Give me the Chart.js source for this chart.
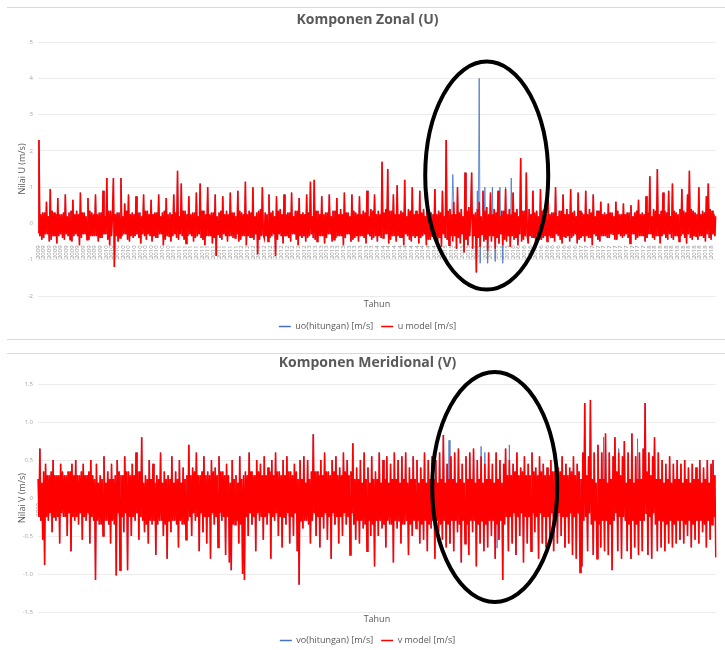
<!DOCTYPE html>
<html>
<head>
<meta charset="utf-8">
<script src="https://cdn.jsdelivr.net/npm/chart.js@4"></script>
<style>
  body { margin: 0; background: #fff; width: 725px; height: 650px; overflow: hidden; position: relative; }
  .sep { position: absolute; left: 7px; width: 718px; height: 1px; background: #d9d9d9; }
  canvas { position: absolute; left: 7px; }
</style>
</head>
<body>
<div class="sep" style="top:7px"></div>
<div class="sep" style="top:339px"></div>
<div class="sep" style="top:353px"></div>
<canvas id="chartU" width="718" height="333" style="top:8px"></canvas>
<canvas id="chartV" width="718" height="301" style="top:354px"></canvas>
<script>
// tahun pada sumbu X (72 sampel per tahun)
const years = ["2009", "2010", "2011", "2012", "2013", "2014", "2015", "2016", "2017", "2018"];

// Komponen Zonal (U), satu baris = 20 sampel
const uModel = [
  -.25,2.3,-.35,.25, -.45,.3,-.4,.3, -.3,.6,-.3,.2, -.5,.95,-.45,.35, -.35,.3,-.35,.25,
  -.55,.7,-.35,.25, -.3,.25,-.4,.3, -.45,.8,-.3,.2, -.35,.3,-.45,.35, -.5,.65,-.35,.25,
  -.3,.35,-.35,.25, -.6,.85,-.4,.3, -.3,.3,-.3,.2, -.45,.7,-.45,.35, -.35,.3,-.35,.25,
  -.35,.8,-.35,.25, -.5,.3,-.4,.3, -.4,.9,-.3,.2, -.3,1.25,-.45,.35, -.6,.35,-.35,.25,
  1.25,-1.2,.25,-.35, .3,-.5,.3,-.4, 1.25,-.35,.2,-.3, .55,-.3,.35,-.45, .8,-.5,.25,-.35,
  .3,-.4,.25,-.35, .75,-.3,.3,-.4, .3,-.55,.2,-.3, .8,-.35,.35,-.45, .35,-.3,.25,-.35,
  .65,-.5,.25,-.35, .3,-.4,.3,-.4, .8,-.3,.2,-.3, .3,-.6,.35,-.45, .7,-.35,.25,-.35,
  .3,-.5,.25,-.35, .8,-.3,.3,-.4, 1.45,-.45,.2,-.3, 1.1,-.35,.35,-.45, .35,-.55,.25,-.35,
  .75,-.3,.25,-.35, .3,-.5,.3,-.4, .85,-.35,.2,-.3, 1.1,-.4,.35,-.45, .35,-.6,.25,-.35,
  1.0,-.35,.25,-.35, .3,-.55,.3,-.4, .8,-.9,.2,-.3, .3,-.4,.35,-.45, .75,-.3,.25,-.35,
  .35,-.5,.25,-.35, .85,-.35,.3,-.4, .3,-.4,.2,-.3, .9,-.5,.35,-.45, .3,-.35,.25,-.35,
  1.15,-.6,.25,-.35, .35,-.4,.3,-.4, 1.0,-.45,.2,-.3, .3,-.85,.35,-.45, .4,-.35,1.0,-.3,
  -.4,.3,-.35,.25, -.5,.8,-.4,.3, -.35,.35,-.3,.2, -.9,.75,-.45,.35, -.3,.4,-.35,.25,
  -.55,.8,-.35,.25, -.35,.3,-.4,.3, -.5,.85,-.3,.2, -.3,.35,-.45,.35, -.6,.7,-.35,.25,
  -.4,.3,-.35,.25, -.5,.8,-.4,.3, -.35,1.15,-.3,.2, -.4,1.2,-.45,.35, -.5,.35,-.35,.25,
  -.35,.75,-.35,.25, -.55,.3,-.4,.3, -.3,.8,-.3,.2, -.5,.35,-.45,.35, -.4,.7,-.35,.25,
  -.35,.4,-.35,.25, -.6,.85,-.4,.3, -.3,.3,-.3,.2, -.5,.8,-.45,.35, -.4,.3,-.35,.25,
  -.5,.75,-.35,.25, -.35,.35,-.4,.3, -.55,.9,-.3,.2, -.35,.4,-.45,.35, -.4,.8,-.35,.25,
  -.5,.35,-.35,.25, -.4,1.7,-.4,.3, -.3,.4,-.3,1.5, -.55,.35,-.45,.35, -.35,.8,-.35,.25,
  -.5,1.05,-.35,.25, -.4,.35,-.4,.3, -.6,1.2,-.3,.2, -.35,.4,-.45,.35, -.5,1.0,-.35,.25,
  -.4,.35,-.35,.25, -.55,.9,-.4,.3, -.35,.4,-.3,.2, -.6,.85,-.45,.35, -.45,.3,-.35,.25,
  -.4,.95,-.35,.25, -.5,.35,-.4,.3, -.65,.9,-.3,.2, -.4,2.3,-.45,.35, -.6,.4,-.35,.25,
  -.5,.6,-.35,.25, -.7,1.0,-.4,.3, -.55,.4,-.3,.2, -.8,1.4,-.45,.35, -.6,.45,-.35,.25,
  1.4,-.7,.25,-.35, .3,-1.35,.4,-.4, .6,-.65,.2,-.3, .9,-.5,.35,-.45, .45,-.75,.25,-.35,
  .85,-.5,.25,-.35, .4,-.7,.3,-.4, .9,-.55,.2,-.3, .35,-.6,.35,-.45, .95,-.5,.25,-.35,
  .4,-.65,.25,-.35, .85,-.45,.3,-.4, .4,-.6,.2,-.3, 1.8,-.5,.35,-.45, .35,-.35,1.4,-.35,
  -.55,.4,-.35,.25, -.4,.9,-.4,.3, -.6,.35,-.3,.2, -.45,.95,-.45,.35, -.4,.4,-.35,.25,
  -.5,.85,-.35,.25, -.4,.3,-.4,.3, -.5,1.0,-.3,.2, -.35,.35,-.45,.35, -.55,.8,-.35,.25,
  -.4,.4,-.35,.25, -.5,.95,-.4,.3, -.35,.35,-.3,.2, -.55,.85,-.45,.35, -.4,.3,-.35,.25,
  -.5,.9,-.35,.25, -.4,.4,-.4,.3, -.6,.8,-.3,.2, -.35,.35,-.45,.35, -.5,.6,-.35,.25,
  -.35,.3,-.35,.25, -.4,.55,-.4,.3, -.3,.3,-.3,.2, -.45,.6,-.45,.35, -.3,.25,-.35,.25,
  -.4,.55,-.35,.25, -.3,.3,-.4,.3, -.55,.5,-.3,.2, -.3,.3,-.45,.35, -.4,.65,-.35,.25,
  -.35,.3,-.35,.25, -.5,.75,-.4,.3, -.3,1.3,-.3,.2, -.4,.4,-.45,.35, -.35,1.5,-.35,.25,
  -.55,.35,-.35,.85, -.3,.35,-.4,.3, -.45,.9,-.3,.2, -.4,1.1,-.45,.35, -.35,.3,-.35,.25,
  -.5,.4,-.35,.95, -.3,.35,-.4,.3, -.55,.8,-.3,1.45, -.4,.4,-.45,.35, -.35,.3,-.35,.25,
  -.45,1.0,-.35,.25, -.35,.35,-.4,.3, -.5,.75,-.3,1.1, -.4,.4,-.45,.35, -.3,.25,-.35,.2
];

const uObserved = [
  -.25,2.3,-.35,.25, -.45,.3,-.4,.3, -.3,.6,-.3,.2, -.5,.95,-.45,.35, -.35,.3,-.35,.25,
  -.55,.7,-.35,.25, -.3,.25,-.4,.3, -.45,.8,-.3,.2, -.35,.3,-.45,.35, -.5,.65,-.35,.25,
  -.3,.35,-.35,.25, -.6,.85,-.4,.3, -.3,.3,-.3,.2, -.45,.7,-.45,.35, -.35,.3,-.35,.25,
  -.35,.8,-.35,.25, -.5,.3,-.4,.3, -.4,.9,-.3,.2, -.3,1.25,-.45,.35, -.6,.35,-.35,.25,
  1.25,-1.2,.25,-.35, .3,-.5,.3,-.4, 1.25,-.35,.2,-.3, .55,-.3,.35,-.45, .8,-.5,.25,-.35,
  .3,-.4,.25,-.35, .75,-.3,.3,-.4, .3,-.55,.2,-.3, .8,-.35,.35,-.45, .35,-.3,.25,-.35,
  .65,-.5,.25,-.35, .3,-.4,.3,-.4, .8,-.3,.2,-.3, .3,-.6,.35,-.45, .7,-.35,.25,-.35,
  .3,-.5,.25,-.35, .8,-.3,.3,-.4, 1.45,-.45,.2,-.3, 1.1,-.35,.35,-.45, .35,-.55,.25,-.35,
  .75,-.3,.25,-.35, .3,-.5,.3,-.4, .85,-.35,.2,-.3, 1.1,-.4,.35,-.45, .35,-.6,.25,-.35,
  1.0,-.35,.25,-.35, .3,-.55,.3,-.4, .8,-.9,.2,-.3, .3,-.4,.35,-.45, .75,-.3,.25,-.35,
  .35,-.5,.25,-.35, .85,-.35,.3,-.4, .3,-.4,.2,-.3, .9,-.5,.35,-.45, .3,-.35,.25,-.35,
  1.15,-.6,.25,-.35, .35,-.4,.3,-.4, 1.0,-.45,.2,-.3, .3,-.85,.35,-.45, .4,-.35,1.0,-.3,
  -.4,.3,-.35,.25, -.5,.8,-.4,.3, -.35,.35,-.3,.2, -.9,.75,-.45,.35, -.3,.4,-.35,.25,
  -.55,.8,-.35,.25, -.35,.3,-.4,.3, -.5,.85,-.3,.2, -.3,.35,-.45,.35, -.6,.7,-.35,.25,
  -.4,.3,-.35,.25, -.5,.8,-.4,.3, -.35,1.15,-.3,.2, -.4,1.2,-.45,.35, -.5,.35,-.35,.25,
  -.35,.75,-.35,.25, -.55,.3,-.4,.3, -.3,.8,-.3,.2, -.5,.35,-.45,.35, -.4,.7,-.35,.25,
  -.35,.4,-.35,.25, -.6,.85,-.4,.3, -.3,.3,-.3,.2, -.5,.8,-.45,.35, -.4,.3,-.35,.25,
  -.5,.75,-.35,.25, -.35,.35,-.4,.3, -.55,.9,-.3,.2, -.35,.4,-.45,.35, -.4,.8,-.35,.25,
  -.5,.35,-.35,.25, -.4,1.7,-.4,.3, -.3,.4,-.3,1.5, -.55,.35,-.45,.35, -.35,.8,-.35,.25,
  -.5,1.05,-.35,.25, -.4,.35,-.4,.3, -.6,1.2,-.3,.2, -.35,.4,-.45,.35, -.5,1.0,-.35,.25,
  -.4,.35,-.35,.25, -.55,.9,-.4,.3, -.35,.4,-.3,.2, -.6,.85,-.45,.35, -.45,.3,-.35,.25,
  -.4,.95,-.35,.25, -.5,.35,-.4,.3, -.65,.9,-.3,.2, -.4,2.3,-.45,.35, -.6,.4,-.35,.25,
  1.35,.6,-.35,.25, -.7,1.0,-.4,.3, -.55,.4,-.3,.2, -.8,1.4,-.45,.35, -.6,.45,-.35,.25,
  1.4,-.7,.25,-.35, .3,-1.35,.9,-.4, 4.0,-1.1,.2,-.3, .9,-.5,1.0,-.45, .45,-1.1,.25,-.35,
  .85,-.5,1.0,-.35, .4,-1.05,.3,-.4, .9,-.55,1.0,-.3, .35,-1.1,.35,-.45, 1.0,-.5,.25,-.35,
  .4,-.65,1.25,-.35, .85,-.45,.3,-.4, .4,-.6,.2,-.3, 1.8,-.5,.35,-.45, .35,-.35,1.4,-.35,
  -.55,.4,-.35,.25, -.4,.9,-.4,.3, -.6,.35,-.3,.2, -.45,.95,-.45,.35, -.4,.4,-.35,.25,
  -.5,.85,-.35,.25, -.4,.3,-.4,.3, -.5,1.0,-.3,.2, -.35,.35,-.45,.35, -.55,.8,-.35,.25,
  -.4,.4,-.35,.25, -.5,.95,-.4,.3, -.35,.35,-.3,.2, -.55,.85,-.45,.35, -.4,.3,-.35,.25,
  -.5,.9,-.35,.25, -.4,.4,-.4,.3, -.6,.8,-.3,.2, -.35,.35,-.45,.35, -.5,.6,-.35,.25,
  -.35,.3,-.35,.25, -.4,.55,-.4,.3, -.3,.3,-.3,.2, -.45,.6,-.45,.35, -.3,.25,-.35,.25,
  -.4,.55,-.35,.25, -.3,.3,-.4,.3, -.55,.5,-.3,.2, -.3,.3,-.45,.35, -.4,.65,-.35,.25,
  -.35,.3,-.35,.25, -.5,.75,-.4,.3, -.3,1.3,-.3,.2, -.4,.4,-.45,.35, -.35,1.5,-.35,.25,
  -.55,.35,-.35,.85, -.3,.35,-.4,.3, -.45,.9,-.3,.2, -.4,1.1,-.45,.35, -.35,.3,-.35,.25,
  -.5,.4,-.35,.95, -.3,.35,-.4,.3, -.55,.8,-.3,1.45, -.4,.4,-.45,.35, -.35,.3,-.35,.25,
  -.45,1.0,-.35,.25, -.35,.35,-.4,.3, -.5,.75,-.3,1.1, -.4,.4,-.45,.35, -.3,.25,-.35,.2
];

// Komponen Meridional (V), satu baris = 20 sampel
const vModel = [
  .25,-.25, .65,-.3, .2,-.55, .35,-.88, .45,-.25, .3,-.3, .3,-.2, .35,-.45, .5,-.25, .3,-.3,
  .3,-.25, .3,-.6, .45,-.2, .35,-.25, .3,-.25, .3,-.5, .35,-.2, .35,-.7, .45,-.25, .3,-.3,
  .5,-.25, .3,-.35, .3,-.2, .35,-.55, .45,-.25, .3,-.3, .3,-.2, .35,-.6, .5,-.25, .3,-.3,
  .25,-1.08, .45,-.3, .2,-.35, .3,-.35, .25,-.5, .55,-.3, .2,-.3, .35,-.35, .25,-.6, .45,-.3,
  .25,-.35, .3,-1.02, .5,-.2, .35,-.95, .3,-.25, .3,-.45, .55,-.2, .35,-.95, .35,-.25, .3,-.5,
  .45,-.25, .3,-.3, .6,-.2, .35,-.55, .35,-.25, .8,-.3, .2,-.45, .3,-.35, .25,-.6, .5,-.3,
  .25,-.35, .45,-.3, .2,-.75, .3,-.35, .25,-.3, .6,-.3, .2,-.5, .35,-.35, .25,-.8, .3,-.3,
  .25,-.45, .55,-.3, .2,-.3, .35,-.35, .25,-.65, .5,-.3, .2,-.35, .4,-.35, .25,-.55, .3,-.3,
  .7,-.25, .3,-.5, .4,-.2, .35,-.3, .6,-.25, .3,-.7, .3,-.2, .35,-.45, .55,-.25, .3,-.6,
  .35,-.25, .3,-.8, .5,-.2, .35,-.35, .4,-.25, .3,-.65, .55,-.2, .35,-.3, .35,-.25, .3,-.75,
  .45,-.25, .3,-.85, .2,-.95, .5,-.35, .25,-.35, .3,-.3, .2,-.6, .55,-.35, .25,-1.0, .3,-1.08,
  .35,-.25, .3,-.5, .6,-.2, .35,-.35, .3,-.25, .3,-.7, .5,-.2, .35,-.3, .45,-.25, .3,-.55,
  .55,-.25, .3,-.35, .4,-.2, .35,-.8, .5,-.25, .3,-.3, .6,-.2, .35,-.5, .35,-.25, .3,-.65,
  .5,-.25, .3,-.35, .55,-.2, .35,-.6, .35,-.25, .3,-.5, .45,-.2, .35,-.7, .25,-1.14, .5,-.3,
  .25,-.4, .55,-.3, .2,-.3, .5,-.35, .25,-.6, .35,-.3, .84,-.2, .35,-.5, .35,-.25, .3,-.65,
  .5,-.25, .3,-.4, .6,-.2, .35,-.55, .35,-.25, .3,-.8, .5,-.2, .35,-.35, .55,-.25, .3,-.6,
  .4,-.25, .3,-.5, .6,-.2, .35,-.35, .5,-.25, .3,-.75, .35,-.2, .72,-.35, .25,-.55, .4,-.3,
  .25,-.6, .5,-.3, .2,-.4, .6,-.35, .25,-.7, .4,-.3, .2,-.5, .55,-.35, .25,-.9, .35,-.3,
  .25,-.5, .6,-.3, .2,-.4, .5,-.35, .25,-.65, .55,-.3, .2,-.35, .45,-.35, .25,-.85, .6,-.3,
  .25,-.4, .5,-.3, .2,-.6, .55,-.35, .25,-.35, .6,-.3, .2,-.75, .4,-.35, .25,-.5, .55,-.3,
  .25,-.4, .5,-.3, .2,-.6, .4,-.35, .25,-.55, .6,-.3, .2,-.7, .5,-.35, .25,-.4, .55,-.3,
  .25,-.8, .5,-.3, .2,-.45, .6,-.35, .25,-.55, .83,-.3, .2,-.65, .45,-.35, .25,-.6, .55,-.3,
  .25,-.7, .6,-.3, .2,-.45, .65,-.35, .25,-.85, .45,-.3, .2,-.6, .55,-.35, .25,-.75, .6,-.3,
  .25,-.45, .65,-.3, .2,-.9, .5,-.35, .25,-.6, .55,-.3, .2,-.7, .45,-.35, .25,-.65, .6,-.3,
  .25,-.5, .45,-.3, .2,-.8, .6,-.35, .25,-.55, .5,-.3, .2,-1.08, .45,-.35, .65,-.25, .3,-.7,
  .5,-.25, .3,-.6, .45,-.2, .35,-.75, .6,-.25, .3,-.5, .4,-.2, .35,-.85, .55,-.25, .3,-.6,
  .45,-.25, .3,-.7, .6,-.2, .35,-.45, .4,-.25, .3,-.8, .55,-.2, .35,-.6, .45,-.25, .3,-.65,
  .4,-.25, .3,-.55, .5,-.2, .35,-.7, .35,-.25, .3,-.6, .4,-.2, .35,-.5, .55,-.25, .3,-.65,
  .45,-.25, .3,-.6, .4,-.2, .35,-.75, .55,-.25, .3,-.8, .45,-.2, .35,-.98, .25,-.9, .6,-.3,
  1.25,-.25, .3,-.7, .55,-.2, 1.29,-.35, .25,-.75, .6,-.3, .2,-.8, .7,-.35, .25,-.65, .6,-.3,
  .25,-.7, .85,-.3, .2,-.75, .6,-.35, .25,-.95, .55,-.3, .8,-.2, .35,-.7, .6,-.25, .3,-.8,
  .55,-.25, .75,-.3, .2,-.7, .6,-.35, .25,-.8, .85,-.3, .2,-.65, .55,-.35, .25,-.75, .6,-.3,
  .25,-.7, .65,-.3, 1.25,-.2, .35,-.75, .6,-.25, .3,-.8, .55,-.2, .8,-.35, .25,-.7, .6,-.3,
  .25,-.65, .5,-.3, .2,-.7, .45,-.35, .25,-.6, .55,-.3, .2,-.65, .45,-.35, .25,-.6, .5,-.3,
  .25,-.55, .45,-.3, .2,-.6, .5,-.35, .25,-.5, .4,-.3, .2,-.65, .45,-.35, .25,-.55, .4,-.3,
  .25,-.6, .5,-.3, .2,-.45, .4,-.35, .25,-.65, .5,-.3, .2,-.55, .45,-.35, .5,-.25, .3,-.78
];

const vObserved = [
  .25,-.25, .65,-.3, .2,-.55, .35,-.88, .45,-.25, .3,-.3, .3,-.2, .35,-.45, .5,-.25, .3,-.3,
  .3,-.25, .3,-.6, .45,-.2, .35,-.25, .3,-.25, .3,-.5, .35,-.2, .35,-.7, .45,-.25, .3,-.3,
  .5,-.25, .3,-.35, .3,-.2, .35,-.55, .45,-.25, .3,-.3, .3,-.2, .35,-.6, .5,-.25, .3,-.3,
  .25,-1.08, .45,-.3, .2,-.35, .3,-.35, .25,-.5, .55,-.3, .2,-.3, .35,-.35, .25,-.6, .45,-.3,
  .25,-.35, .3,-1.02, .5,-.2, .35,-.95, .3,-.25, .3,-.45, .55,-.2, .35,-.95, .35,-.25, .3,-.5,
  .45,-.25, .3,-.3, .6,-.2, .35,-.55, .35,-.25, .8,-.3, .2,-.45, .3,-.35, .25,-.6, .5,-.3,
  .25,-.35, .45,-.3, .2,-.75, .3,-.35, .25,-.3, .6,-.3, .2,-.5, .35,-.35, .25,-.8, .3,-.3,
  .25,-.45, .55,-.3, .2,-.3, .35,-.35, .25,-.65, .5,-.3, .2,-.35, .4,-.35, .25,-.55, .3,-.3,
  .7,-.25, .3,-.5, .4,-.2, .35,-.3, .6,-.25, .3,-.7, .3,-.2, .35,-.45, .55,-.25, .3,-.6,
  .35,-.25, .3,-.8, .5,-.2, .35,-.35, .4,-.25, .3,-.65, .55,-.2, .35,-.3, .35,-.25, .3,-.75,
  .45,-.25, .3,-.85, .2,-.95, .5,-.35, .25,-.35, .3,-.3, .2,-.6, .55,-.35, .25,-1.0, .3,-1.08,
  .35,-.25, .3,-.5, .6,-.2, .35,-.35, .3,-.25, .3,-.7, .5,-.2, .35,-.3, .45,-.25, .3,-.55,
  .55,-.25, .3,-.35, .4,-.2, .35,-.8, .5,-.25, .3,-.3, .6,-.2, .35,-.5, .35,-.25, .3,-.65,
  .5,-.25, .3,-.35, .55,-.2, .35,-.6, .35,-.25, .3,-.5, .45,-.2, .35,-.7, .25,-1.14, .5,-.3,
  .25,-.4, .55,-.3, .2,-.3, .5,-.35, .25,-.6, .35,-.3, .84,-.2, .35,-.5, .35,-.25, .3,-.65,
  .5,-.25, .3,-.4, .6,-.2, .35,-.55, .35,-.25, .3,-.8, .5,-.2, .35,-.35, .55,-.25, .3,-.6,
  .4,-.25, .3,-.5, .6,-.2, .35,-.35, .5,-.25, .3,-.75, .35,-.2, .72,-.35, .25,-.55, .4,-.3,
  .25,-.6, .5,-.3, .2,-.4, .6,-.35, .25,-.7, .4,-.3, .2,-.5, .55,-.35, .25,-.9, .35,-.3,
  .25,-.5, .6,-.3, .2,-.4, .5,-.35, .25,-.65, .55,-.3, .2,-.35, .45,-.35, .25,-.85, .6,-.3,
  .25,-.4, .5,-.3, .2,-.6, .55,-.35, .25,-.35, .6,-.3, .2,-.75, .4,-.35, .25,-.5, .55,-.3,
  .25,-.4, .5,-.3, .2,-.6, .4,-.35, .25,-.55, .6,-.3, .2,-.7, .5,-.35, .25,-.4, .55,-.3,
  .25,-.8, .5,-.3, .2,-.45, .6,-.35, .25,-.55, .83,-.3, .2,-.65, .45,-.35, .76,-.6, .55,-.3,
  .25,-.7, .6,-.3, .2,-.45, .65,-.35, .25,-.85, .45,-.3, .2,-.6, .55,-.35, .25,-.75, .6,-.3,
  .25,-.45, .65,-.3, .2,-.9, .5,-.35, .25,-.6, .68,-.3, .2,-.7, .6,-.35, .25,-.65, .6,-.3,
  .25,-.5, .45,-.3, .2,-.8, .6,-.66, .25,-.55, .5,-.3, .2,-1.08, .45,-.35, .65,-.25, .3,-.7,
  .7,-.25, .3,-.6, .45,-.2, .35,-.75, .6,-.25, .3,-.5, .4,-.2, .35,-.85, .55,-.25, .3,-.6,
  .45,-.25, .3,-.7, .6,-.2, .35,-.45, .4,-.25, .3,-.8, .55,-.2, .35,-.6, .45,-.25, .3,-.65,
  .4,-.25, .3,-.55, .5,-.2, .35,-.7, .35,-.25, .3,-.6, .4,-.2, .35,-.5, .55,-.25, .3,-.65,
  .45,-.25, .3,-.6, .4,-.2, .35,-.75, .55,-.25, .3,-.8, .45,-.2, .35,-.98, .25,-.9, .6,-.3,
  1.25,-.25, .3,-.7, .55,-.2, 1.29,-.35, .25,-.75, .6,-.3, .2,-.8, .7,-.35, .25,-.65, .6,-.3,
  .8,-.7, .85,-.3, .2,-.75, .6,-.35, .25,-.95, .55,-.3, .8,-.2, .35,-.7, .65,-.25, .3,-.8,
  .55,-.25, .75,-.3, .2,-.7, .6,-.35, .25,-.8, .85,-.3, .2,-.65, .55,-.35, .78,-.75, .6,-.3,
  .25,-.7, .65,-.3, 1.25,-.2, .35,-.75, .6,-.25, .3,-.8, .55,-.2, .8,-.35, .25,-.7, .6,-.3,
  .25,-.65, .5,-.3, .2,-.7, .45,-.35, .25,-.6, .55,-.3, .2,-.65, .45,-.35, .25,-.6, .5,-.3,
  .25,-.55, .45,-.3, .2,-.6, .5,-.35, .25,-.5, .4,-.3, .2,-.65, .45,-.35, .25,-.55, .4,-.3,
  .25,-.6, .5,-.3, .2,-.45, .4,-.35, .25,-.65, .5,-.3, .2,-.55, .45,-.35, .5,-.25, .3,-.78
];

let labels = [];
years.forEach((year) => {
  for (let k = 0; k < 72; k++) labels.push(year);
});

Chart.defaults.font.family = "'Open Sans', sans-serif";

// lingkaran penanda (anotasi hitam)
const ellipsePlugin = {
  id: "ellipse",
  afterDatasetsDraw: (chart, args, opts) => {
    let ctx = chart.ctx;
    let cx = chart.scales.x.getPixelForValue(opts.index);
    let cy = chart.scales.y.getPixelForValue(opts.value);
    ctx.save();
    ctx.beginPath();
    ctx.ellipse(cx, cy, opts.rx, opts.ry, 0, 0, Math.PI * 2);
    ctx.lineWidth = 4;
    ctx.strokeStyle = "#000";
    ctx.stroke();
    ctx.restore();
  },
};

drawChart = (id, cfg) => {
  let ctx = document.getElementById(id).getContext("2d");
  return new Chart(ctx, {
    type: "line",
    data: {
      labels: labels,
      datasets: [
        {
          label: cfg.obsLabel,
          data: cfg.observed,
          borderColor: "#4472c4",
          backgroundColor: "#4472c4",
          borderWidth: 0.8,
          order: 1,
        },
        {
          label: cfg.modelLabel,
          data: cfg.model,
          borderColor: "#ff0000",
          backgroundColor: "#ff0000",
          borderWidth: 1.6,
          order: 0,
        },
      ],
    },
    options: {
      responsive: false,
      animation: false,
      layout: { padding: { left: 6, right: 3, top: 0, bottom: 0 } },
      elements: {
        line: { tension: 0 },
        point: { radius: 0 },
      },
      plugins: {
        title: {
          display: true,
          text: cfg.title,
          color: "#595959",
          font: { size: 14, weight: "bold" },
          padding: cfg.titlePadding,
        },
        legend: {
          position: "bottom",
          labels: {
            color: "#595959",
            font: { size: 9 },
            usePointStyle: true,
            pointStyle: "line",
            pointStyleWidth: 12,
            padding: 8,
            sort: (a, b) => a.datasetIndex - b.datasetIndex,
            generateLabels: (chart) => {
              let items = Chart.defaults.plugins.legend.labels.generateLabels(chart);
              items.forEach((item) => { item.lineWidth = 1.5; });
              return items;
            },
          },
        },
        tooltip: { enabled: false },
        ellipse: cfg.ellipse,
      },
      scales: {
        x: {
          position: { y: cfg.axisAt },
          grid: { display: false, drawTicks: false },
          border: { display: false },
          ticks: {
            autoSkip: false,
            maxRotation: 90,
            minRotation: 90,
            padding: 2,
            color: "#8c8c8c",
            font: { size: 6 },
            callback: function (value, index) {
              return index % 6 === 0 ? this.getLabelForValue(value) : "";
            },
          },
        },
        x2: {
          type: "category",
          position: "bottom",
          grid: { display: false, drawTicks: false },
          border: { display: false },
          ticks: { display: false },
          title: {
            display: true,
            text: "Tahun",
            color: "#595959",
            font: { size: 9 },
            padding: cfg.xTitlePadding,
          },
        },
        y: {
          min: cfg.min,
          max: cfg.max,
          ticks: { stepSize: cfg.step, color: "#a6a6a6", font: { size: 6 }, padding: 5 },
          grid: { color: "#ececec", drawTicks: false },
          border: { display: false },
          title: {
            display: true,
            text: cfg.yTitle,
            color: "#595959",
            font: { size: 9 },
            padding: { top: 4, bottom: 0 },
          },
          afterFit: (scale) => {
            scale.width = 25;
          },
        },
      },
    },
    plugins: [ellipsePlugin],
  });
};

drawChart("chartU", {
  title: "Komponen Zonal (U)",
  yTitle: "Nilai U (m/s)",
  obsLabel: "uo(hitungan) [m/s]",
  modelLabel: "u model [m/s]",
  observed: uObserved,
  model: uModel,
  min: -2,
  max: 5,
  step: 1,
  axisAt: -0.55,
  titlePadding: { top: 4, bottom: 13.2 },
  xTitlePadding: { top: 3, bottom: 4.2 },
  ellipse: { index: 476, value: 1.32, rx: 61.5, ry: 114 },
});

drawChart("chartV", {
  title: "Komponen Meridional (V)",
  yTitle: "Nilai V (m/s)",
  obsLabel: "vo(hitungan) [m/s]",
  modelLabel: "v model [m/s]",
  observed: vObserved,
  model: vModel,
  min: -1.5,
  max: 1.5,
  step: 0.5,
  axisAt: -0.04,
  titlePadding: { top: 1, bottom: 12.2 },
  xTitlePadding: { top: 1.6, bottom: 3.6 },
  ellipse: { index: 484.5, value: 0.145, rx: 62.5, ry: 115 },
});
</script>
</body>
</html>
